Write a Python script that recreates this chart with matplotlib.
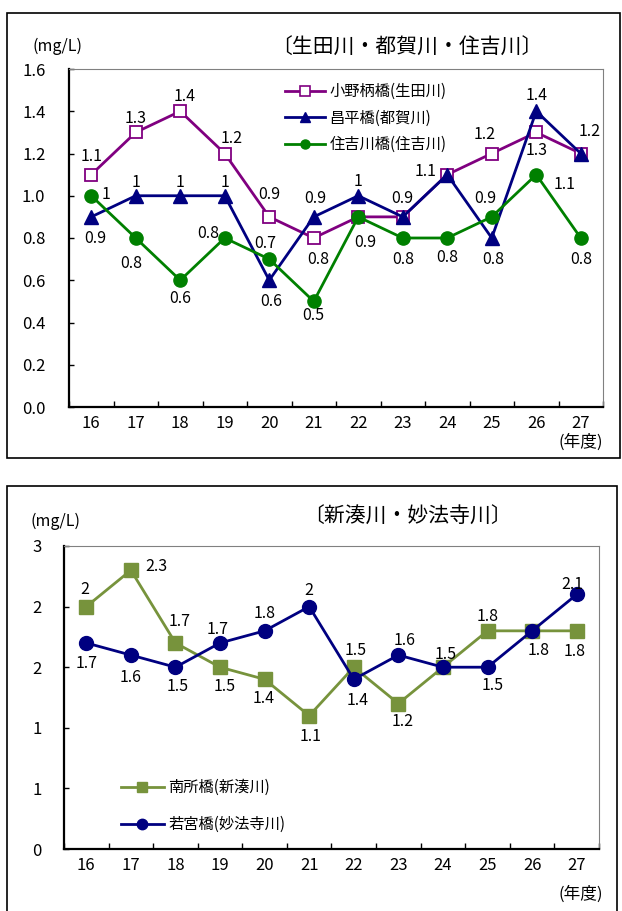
import matplotlib
matplotlib.use('Agg')
import matplotlib.pyplot as plt
from matplotlib.patches import Rectangle
from matplotlib.lines import Line2D

plt.rcParams['font.family'] = ['Noto Sans CJK JP', 'DejaVu Sans']

W, H = 622, 911

# ---------------- data ----------------
years = [16, 17, 18, 19, 20, 21, 22, 23, 24, 25, 26, 27]
year_labels = [str(y) for y in years]
unit_label = '(mg/L)'
year_unit = '(年度)'

top_title = '〔生田川・都賀川・住吉川〕'
top_names = ['小野柄橋(生田川)', '昌平橋(都賀川)', '住吉川橋(住吉川)']
ono = [1.1, 1.3, 1.4, 1.2, 0.9, 0.8, 0.9, 0.9, 1.1, 1.2, 1.3, 1.2]
shohei = [0.9, 1.0, 1.0, 1.0, 0.6, 0.9, 1.0, 0.9, 1.1, 0.8, 1.4, 1.2]
sumiyoshi = [1.0, 0.8, 0.6, 0.8, 0.7, 0.5, 0.9, 0.8, 0.8, 0.9, 1.1, 0.8]
top_yticks = [0.0, 0.2, 0.4, 0.6, 0.8, 1.0, 1.2, 1.4, 1.6]
top_yticklabels = ['0.0', '0.2', '0.4', '0.6', '0.8', '1.0', '1.2', '1.4', '1.6']

bottom_title = '〔新湊川・妙法寺川〕'
bottom_names = ['南所橋(新湊川)', '若宮橋(妙法寺川)']
nansho = [2.0, 2.3, 1.7, 1.5, 1.4, 1.1, 1.5, 1.2, 1.5, 1.8, 1.8, 1.8]
wakamiya = [1.7, 1.6, 1.5, 1.7, 1.8, 2.0, 1.4, 1.6, 1.5, 1.5, 1.8, 2.1]
bottom_yticks = [0.0, 0.5, 1.0, 1.5, 2.0, 2.5]
bottom_yticklabels = ['0', '1', '1', '2', '2', '3']

# ---------------- label offsets (pixels, None = hidden) ----------------
ono_off = [(0, -19), (0, -15), (4, -16), (7, -16), (0, -23), (4, 20), None,
           (0, -19), (-22, -4), (-7, -20), (0, 17), (9, -23)]
shohei_off = [(4, 21), (0, -14), (0, -14), (0, -14), (2, 20), (2, -19), (0, -15),
              None, None, (1, 20), (0, -17), None]
sumi_off = [(15, -2), (-5, 24), (0, 17), (-17, -5), (-4, -17), (0, 13), (7, 25),
            (0, 20), (0, 18), (-6, -19), (28, 9), (0, 20)]
nansho_off = [(-2, -18), (25, -5), (4, -22), (5, 18), (-1, 18), (1, 20), (2, -18),
              (4, 17), (3, -14), (0, -15), None, (-2, 20)]
waka_off = [(0, 20), (0, 21), (2, 18), (-2, -14), (0, -18), (0, -17), (4, 20),
            (6, -16), None, (5, 17), (7, 19), (-4, -11)]

PURPLE = '#800080'
NAVY = '#000080'
GREEN = '#008000'
OLIVE = '#77933C'

NUM_FS = 12

fig = plt.figure(figsize=(W / 100, H / 100), dpi=100)


def fx(x):
    return x / W


def fy(y):
    return 1 - y / H


def make_axes(l, t, r, b):
    return fig.add_axes([fx(l), fy(b), (r - l) / W, (b - t) / H])


def style_axes(ax, yticks, yticklabels, ymax, ypad):
    ax.set_xlim(years[0] - 0.5, years[-1] + 0.5)
    ax.set_ylim(0, ymax)
    ax.set_xticks([y - 0.5 for y in years] + [years[-1] + 0.5])
    ax.set_xticklabels([])
    ax.set_xticks(years, minor=True)
    ax.set_xticklabels(year_labels, minor=True, fontsize=NUM_FS)
    ax.tick_params(axis='x', which='major', direction='in', length=4, width=1, color='black')
    ax.tick_params(axis='x', which='minor', length=0, pad=6)
    ax.set_yticks(yticks)
    ax.set_yticklabels(yticklabels, fontsize=NUM_FS)
    ax.tick_params(axis='y', direction='in', length=3.5, width=1, pad=ypad)
    for s in ['left', 'bottom']:
        ax.spines[s].set_linewidth(1.6)
        ax.spines[s].set_color('black')
    for s in ['top', 'right']:
        ax.spines[s].set_linewidth(0.8)
        ax.spines[s].set_color('#808080')


def labels(ax, vals, offs):
    for x, v, o in zip(years, vals, offs):
        if o is None:
            continue
        ax.annotate(f'{v:g}', (x, v), xytext=(o[0], -o[1] - 1), textcoords='offset pixels',
                    ha='center', va='center', fontsize=NUM_FS - 0.5, color='black', zorder=6)


# outer frames
fig.patches.append(Rectangle((fx(7), fy(458)), (620 - 7) / W, (458 - 13) / H,
                             transform=fig.transFigure, fill=False, ec='black', lw=1.2))
fig.patches.append(Rectangle((fx(7), fy(930)), (617 - 7) / W, (930 - 486) / H,
                             transform=fig.transFigure, fill=False, ec='black', lw=1.2))

# ---------------- top chart ----------------
ax1 = make_axes(69, 69, 603, 407)
style_axes(ax1, top_yticks, top_yticklabels, 1.6, 17)
l1, = ax1.plot(years, ono, color=PURPLE, lw=2, marker='s', ms=9, mfc='white',
               mec=PURPLE, mew=1.3, zorder=3)
l2, = ax1.plot(years, shohei, color=NAVY, lw=2, marker='^', ms=10, mfc=NAVY,
               mec=NAVY, zorder=4)
l3, = ax1.plot(years, sumiyoshi, color=GREEN, lw=2, marker='o', ms=9.5, mfc=GREEN,
               mec=GREEN, zorder=5)
labels(ax1, ono, ono_off)
labels(ax1, shohei, shohei_off)
labels(ax1, sumiyoshi, sumi_off)

h1 = Line2D([], [], color=PURPLE, lw=2, marker='s', ms=7, mfc='white', mec=PURPLE, mew=1.2)
h2 = Line2D([], [], color=NAVY, lw=2, marker='^', ms=7, mfc=NAVY, mec=NAVY)
h3 = Line2D([], [], color=GREEN, lw=2, marker='o', ms=6.5, mfc=GREEN, mec=GREEN)
leg1 = fig.legend([h1, h2, h3], top_names, loc='upper left',
                  bbox_to_anchor=(fx(285), fy(83)), frameon=False, fontsize=11,
                  handlelength=2.6, handletextpad=0.3, labelspacing=0.62,
                  borderpad=0, borderaxespad=0)

fig.text(fx(407), fy(48), top_title, ha='center', va='center', fontsize=15)
fig.text(fx(57), fy(46), unit_label, ha='center', va='center', fontsize=11.5)
fig.text(fx(603), fy(442), year_unit, ha='right', va='center', fontsize=12)

# ---------------- bottom chart ----------------
ax2 = make_axes(64, 546, 599, 849)
style_axes(ax2, bottom_yticks, bottom_yticklabels, 2.5, 16)
m1, = ax2.plot(years, nansho, color=OLIVE, lw=2, marker='s', ms=9.5, mfc=OLIVE,
               mec=OLIVE, zorder=3)
m2, = ax2.plot(years, wakamiya, color=NAVY, lw=2, marker='o', ms=10, mfc=NAVY,
               mec=NAVY, zorder=4)
labels(ax2, nansho, nansho_off)
labels(ax2, wakamiya, waka_off)

g1 = Line2D([], [], color=OLIVE, lw=2, marker='s', ms=7.5, mfc=OLIVE, mec=OLIVE)
g2 = Line2D([], [], color=NAVY, lw=2, marker='o', ms=7.5, mfc=NAVY, mec=NAVY)
leg2 = fig.legend([g1, g2], bottom_names, loc='upper left',
                  bbox_to_anchor=(fx(121), fy(779)), frameon=False, fontsize=11,
                  handlelength=2.8, handletextpad=0.3, labelspacing=1.3,
                  borderpad=0, borderaxespad=0)

fig.text(fx(407), fy(517), bottom_title, ha='center', va='center', fontsize=15)
fig.text(fx(56), fy(521), unit_label, ha='center', va='center', fontsize=11.5)
fig.text(fx(603), fy(894), year_unit, ha='right', va='center', fontsize=12)

fig.savefig('out.png', dpi=100)
